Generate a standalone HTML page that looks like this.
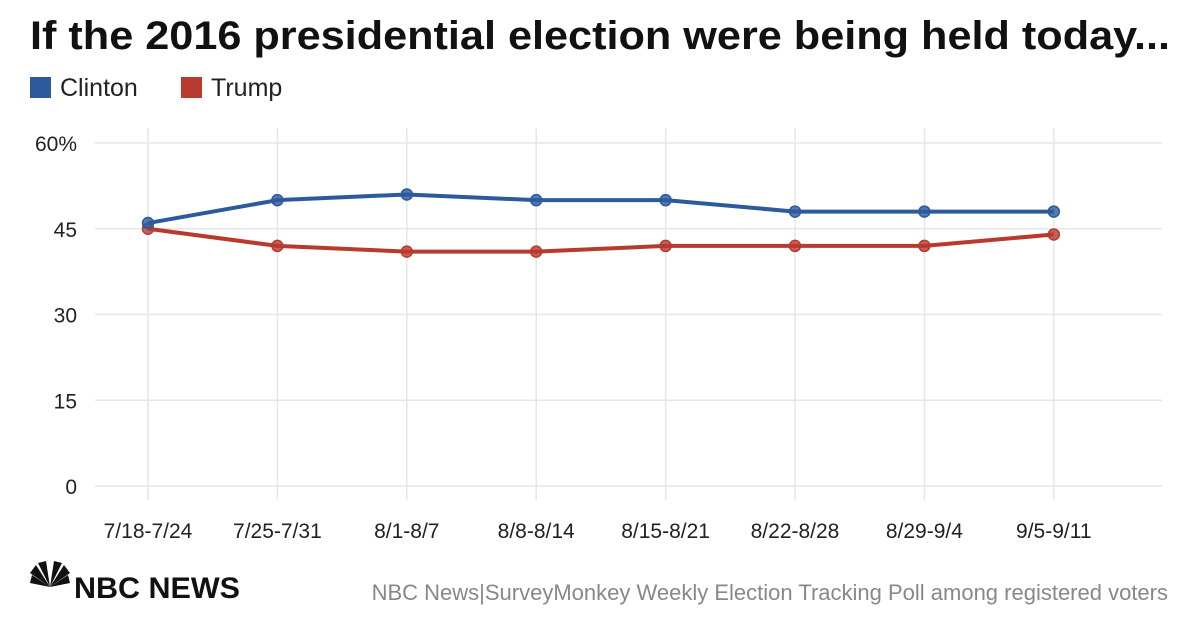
<!DOCTYPE html>
<html><head><meta charset="utf-8"><style>
body{margin:0;width:1200px;height:630px;background:#fff;font-family:"Liberation Sans",sans-serif;overflow:hidden}
</style></head><body>
<svg width="1200" height="630">
<text x="30" y="49" font-size="40" font-weight="bold" fill="#111" textLength="1140" lengthAdjust="spacingAndGlyphs">If the 2016 presidential election were being held today...</text>
<g>
<rect x="30" y="77" width="21" height="21" fill="#2d5a9c"/>
<text x="60" y="96" font-size="25" fill="#222">Clinton</text>
<rect x="181" y="77" width="21" height="21" fill="#b83a2e"/>
<text x="211" y="96" font-size="25" fill="#222">Trump</text>
</g>
<g id="plot"></g>
<g>
<g transform="translate(50,587)">
<path d="M0,0 L-18,-12 L-20,-4 Z" fill="#111"/><path d="M0,0 L-14,-22 L-20,-14 Z" fill="#111"/>
<path d="M0,0 L-4,-26 L-12,-24 Z" fill="#111"/><path d="M0,0 L4,-26 L12,-24 Z" fill="#111"/>
<path d="M0,0 L14,-22 L20,-14 Z" fill="#111"/><path d="M0,0 L18,-12 L20,-4 Z" fill="#111"/>
</g>
<text x="74" y="598" font-size="30" font-weight="bold" fill="#111" textLength="166" lengthAdjust="spacingAndGlyphs">NBC NEWS</text>
</g>
<text x="1168" y="600" text-anchor="end" font-size="22" fill="#888">NBC News|SurveyMonkey Weekly Election Tracking Poll among registered voters</text>
</svg>
<script>
const categories=["7/18-7/24","7/25-7/31","8/1-8/7","8/8-8/14","8/15-8/21","8/22-8/28","8/29-9/4","9/5-9/11"];
const clinton=[46,50,51,50,50,48,48,48];
const trump=[45,42,41,41,42,42,42,44];
const yTicks=[0,15,30,45,60];
const yTickLabels=["0","15","30","45","60%"];
const NS="http://www.w3.org/2000/svg";
const g=document.getElementById("plot");
const x=i=>148+i*129.4;
const y=v=>486-v*(343/60);
function mk(t,a,p){const e=document.createElementNS(NS,t);for(const k in a)e.setAttribute(k,a[k]);(p||g).appendChild(e);return e;}
categories.forEach((c,i)=>{
 const l=mk("line",{x1:x(i),x2:x(i),y1:128,y2:500,stroke:"#e6e6e6","stroke-width":1.5});
 
 
 const t=mk("text",{x:x(i),y:538,"text-anchor":"middle","font-size":21,fill:"#222"});t.textContent=c;
 
 
});
yTicks.forEach((v,i)=>{
 const l=mk("line",{x1:95,x2:1162,y1:y(v),y2:y(v),stroke:"#e6e6e6","stroke-width":1.5});
 
 
 const t=mk("text",{x:77,y:y(v)+8,"text-anchor":"end","font-size":21,fill:"#222"});t.textContent=yTickLabels[i];
 
 
});
function series(vals,col,name){
 const p=mk("polyline",{points:vals.map((v,i)=>x(i)+","+y(v)).join(" "),fill:"none",stroke:col,"stroke-width":4,"stroke-linejoin":"round"});
 
 
 vals.forEach((v,i)=>{
  const c=mk("circle",{cx:x(i),cy:y(v),r:5.5,fill:col,stroke:col,"stroke-width":1.5,"fill-opacity":0.8});
  
  
 });
}
series(trump,"#b83a2e","trump");
series(clinton,"#2d5a9c","clinton");
</script>
</body></html>
